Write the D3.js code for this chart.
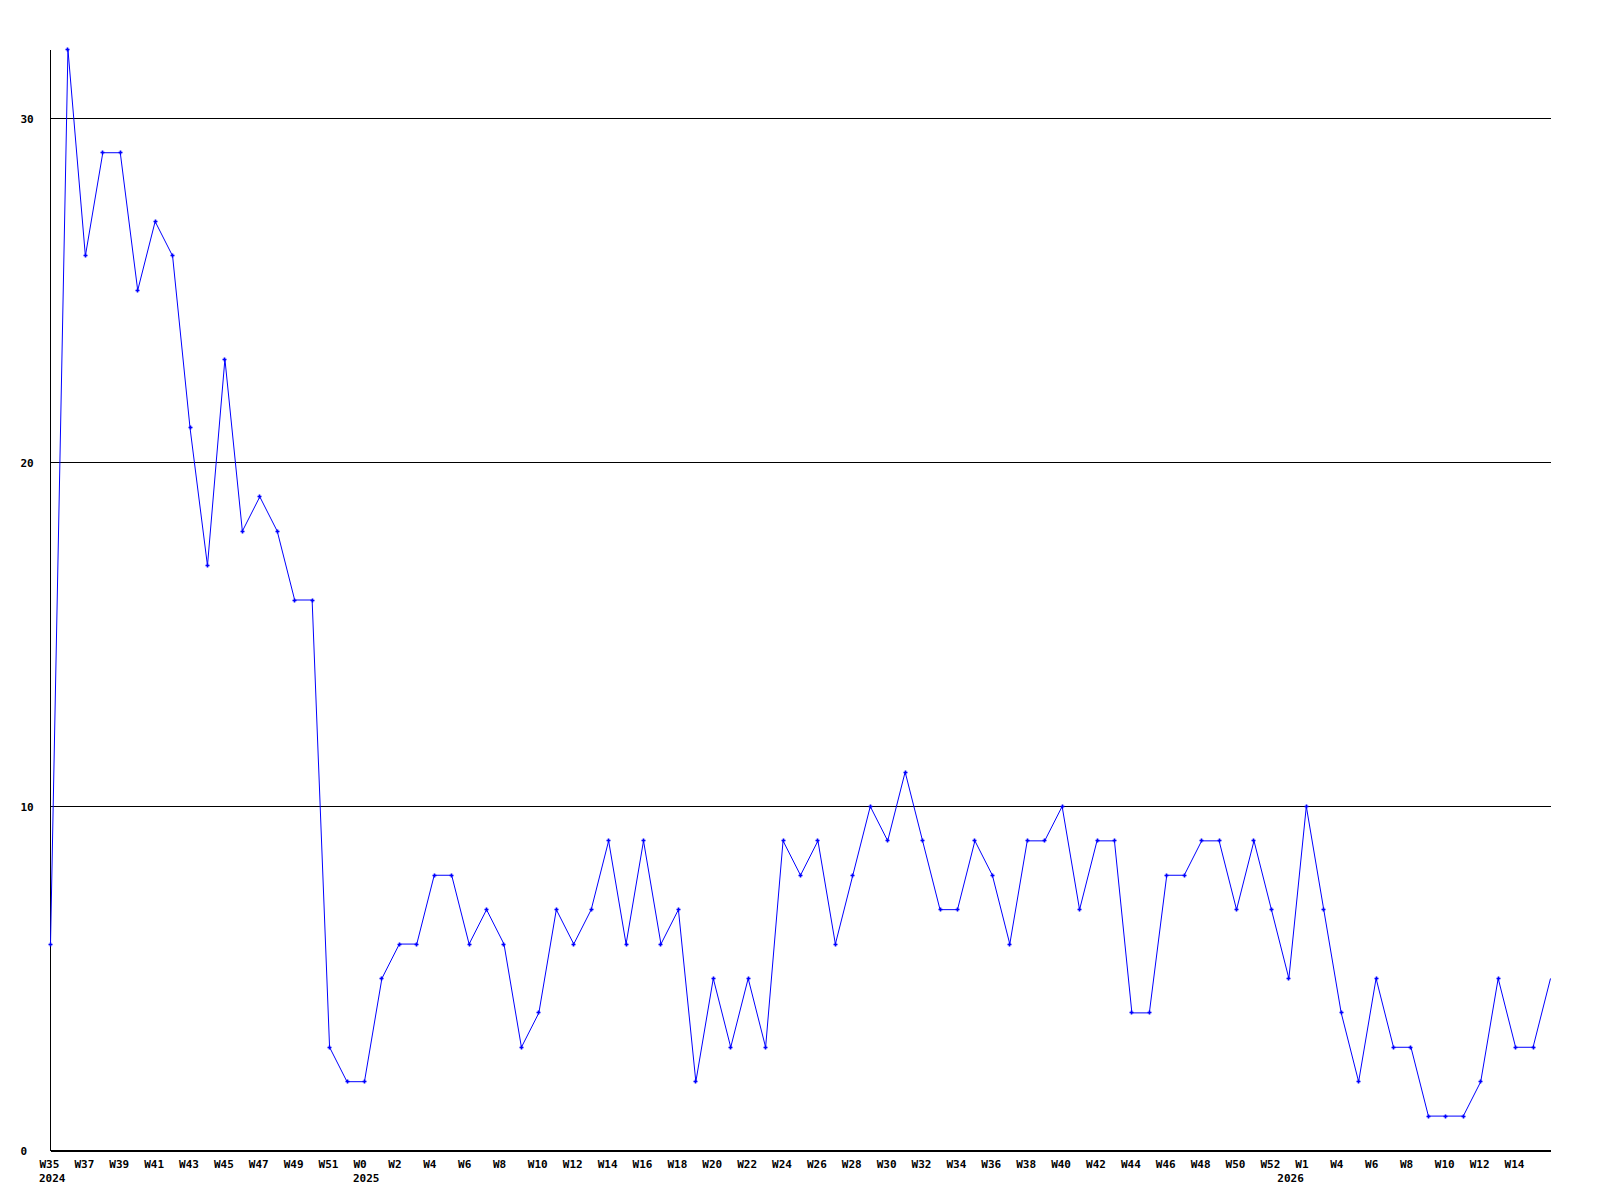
<!DOCTYPE html>
<html>
<head>
<meta charset="utf-8">
<script src="https://cdn.jsdelivr.net/npm/d3@7"></script>
<style>
  body { margin: 0; background: #fff; }
  svg text { font-family: "DejaVu Sans Mono", monospace; font-size: 11px; font-weight: bold; fill: #000; }
</style>
</head>
<body>
<script>

// weekly values, 2024 W35 .. 2026 W16
var values = [6, 32, 26, 29, 29, 25, 27, 26, 21, 17, 23, 18, 19, 18, 16, 16, 3, 2,
  2, 5, 6, 6, 8, 8, 6, 7, 6, 3, 4, 7, 6, 7, 9, 6, 9, 6, 7, 2, 5, 3, 5, 3, 9, 8, 9, 6, 8, 10, 9, 11,
  9, 7, 7, 9, 8, 6, 9, 9, 10, 7, 9, 9, 4, 4, 8, 8, 9, 9, 7, 9, 7,
  5, 10, 7, 4, 2, 5, 3, 3, 1, 1, 1, 2, 5, 3, 3, 5];

// labels on every second week
var weekLabels = ["W35", "W37", "W39", "W41", "W43", "W45", "W47", "W49", "W51",
  "W0", "W2", "W4", "W6", "W8", "W10", "W12", "W14", "W16", "W18", "W20", "W22", "W24", "W26",
  "W28", "W30", "W32", "W34", "W36", "W38", "W40", "W42", "W44", "W46", "W48", "W50", "W52",
  "W1", "W4", "W6", "W8", "W10", "W12", "W14"];

var yearLabels = ["2024", "2025", "2026"];
var yearIndex = [0, 18, 71];

var yTicks = [0, 10, 20, 30];

var margin = { top: 49, right: 50, bottom: 50, left: 50 },
    outerWidth = 1600,
    outerHeight = 1200,
    width = outerWidth - margin.left - margin.right,
    height = outerHeight - margin.top - margin.bottom;

var svg = d3.select("body").append("svg").attr("width", outerWidth).attr("height", outerHeight)
  .append("g").attr("transform", "translate(" + (margin.left + 0.5) + "," + (margin.top + 0.5) + ")");

var x = d3.scaleLinear().domain([0, values.length - 1]).range([0, width]);
var y = d3.scaleLinear().domain([0, 32]).range([height, 0]);

// y axis with grid lines
var yAxis = d3.axisLeft(y).tickValues(yTicks).tickSize(-width).tickFormat(d3.format("d"));
var yAxisGroup = svg.append("g").attr("class", "y axis").call(yAxis);
yAxisGroup.select(".domain").remove();
yAxisGroup.selectAll(".tick line").attr("stroke", "#000").attr("shape-rendering", "crispEdges");
yAxisGroup.selectAll(".tick text").attr("text-anchor", "start").attr("x", -30).attr("dy", "0.35em");

// left axis line
svg.append("line").attr("x1", 0).attr("x2", 0).attr("y1", 0).attr("y2", height)
  .attr("stroke", "#000").attr("shape-rendering", "crispEdges");

// x axis
var tickIdx = weekLabels.map(function (d, i) { return i * 2; });
var xAxis = d3.axisBottom(x).tickValues(tickIdx).tickSize(0)
  .tickFormat(function (d) { return weekLabels[d / 2]; });
var xAxisGroup = svg.append("g").attr("class", "x axis").attr("transform", "translate(0," + height + ")").call(xAxis);
xAxisGroup.select(".domain").attr("stroke", "#000").attr("shape-rendering", "crispEdges").attr("d", "M0,0H" + width);
xAxisGroup.selectAll(".tick text").attr("text-anchor", "start").attr("x", -11.5).attr("y", 17).attr("dy", 0);

xAxisGroup.selectAll(".year").data(yearIndex).enter().append("text")
  .attr("class", "year")
  .attr("text-anchor", "start")
  .attr("x", function (d) { return x(d) - 11.5; })
  .attr("y", 31)
  .text(function (d, i) { return yearLabels[i]; });

// series line
var line = d3.line().x(function (d, i) { return x(i); }).y(function (d) { return y(d); });
svg.append("path").datum(values).attr("d", line)
  .attr("fill", "none").attr("stroke", "#0000ff").attr("stroke-width", 1);

// markers (last week has none)
svg.selectAll(".pt").data(values.slice(0, values.length - 1)).enter().append("path")
  .attr("class", "pt")
  .attr("d", function (d, i) {
    var cx = Math.round(x(i)), cy = Math.round(y(d));
    return "M" + (cx - 2) + "," + cy + "H" + (cx + 2) + "M" + cx + "," + (cy - 2) + "V" + (cy + 2);
  })
  .attr("stroke", "#0000ff").attr("stroke-width", 1.6).attr("fill", "none");

</script>
</body>
</html>
